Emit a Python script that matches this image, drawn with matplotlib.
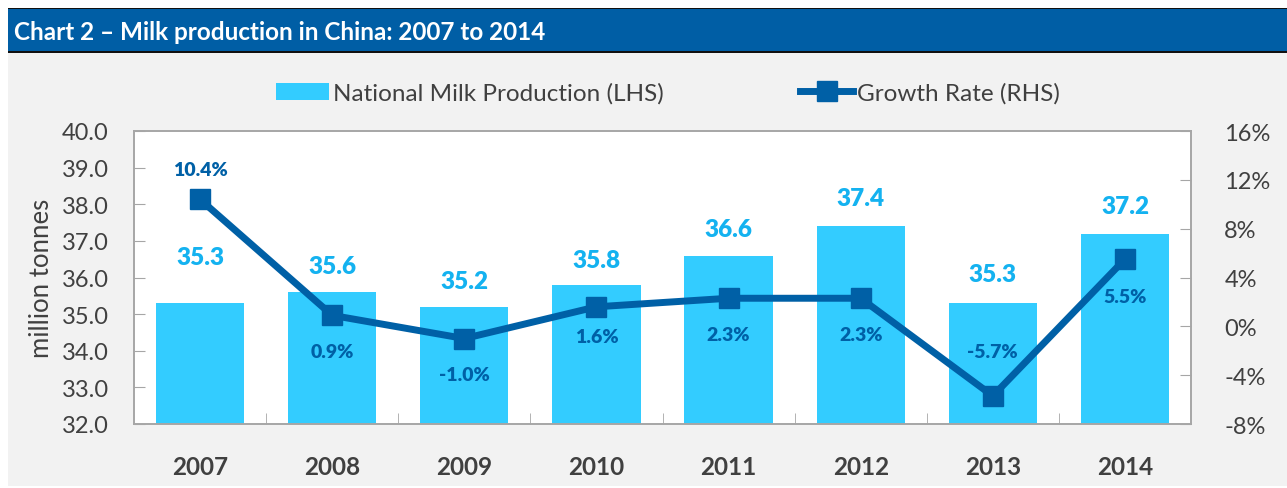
import matplotlib.pyplot as plt
from matplotlib.patches import Rectangle
from matplotlib.lines import Line2D
import numpy as np

plt.rcParams['font.family'] = ['Lato', 'DejaVu Sans']

years = ['2007', '2008', '2009', '2010', '2011', '2012', '2013', '2014']
production = [35.3, 35.6, 35.2, 35.8, 36.6, 37.4, 35.3, 37.2]
growth = [10.4, 0.9, -1.0, 1.6, 2.3, 2.3, -5.7, 5.5]

bar_col = '#33ccff'
bar_txt = '#14b2f0'
line_col = '#0060a6'
txt_col = '#404040'
W, H = 1287, 489

fig = plt.figure(figsize=(W / 100, H / 100), dpi=100)
fig.patch.set_facecolor('white')

# background panels
fig.patches.append(Rectangle((8 / W, 2 / H), 1 - 8 / W, 434 / H, transform=fig.transFigure,
                             facecolor='#f2f2f2', edgecolor='none', zorder=-2))
fig.patches.append(Rectangle((8 / W, 1 - 54 / H), 1 - 8 / W, 45 / H, transform=fig.transFigure,
                             facecolor='#111111', edgecolor='none', zorder=-1))
fig.patches.append(Rectangle((8 / W, 1 - 52 / H), 1 - 8 / W, 42 / H, transform=fig.transFigure,
                             facecolor='#005ea5', edgecolor='none', zorder=0))
fig.text(14 / W, 1 - 32 / H, 'Chart 2 \u2013 Milk production in China: 2007 to 2014',
         color='white', fontsize=17.5, fontweight='bold', va='center', ha='left')

ax = fig.add_axes([134 / W, 1 - 425 / H, (1191 - 134) / W, (425 - 132) / H])
ax.set_facecolor('white')
x = np.arange(len(years))
ax.bar(x, np.array(production) - 32, bottom=32, width=0.667, color=bar_col, zorder=2)
ax.set_xlim(-0.5, len(years) - 0.5)
ax.set_ylim(32, 40)
ax.set_yticks(np.arange(32, 40.1, 1))
ax.set_yticklabels(['%.1f' % v for v in np.arange(32, 40.1, 1)])
ax.set_xticks(x)
ax.set_xticklabels(years, fontweight='bold')
ax.set_xticks(np.arange(0.5, len(years) - 1, 1), minor=True)
ax.tick_params(axis='x', which='major', length=0, pad=22, labelsize=17.5, labelcolor=txt_col)
ax.tick_params(axis='x', which='minor', direction='in', length=8, color='#a6a6a6')
ax.tick_params(axis='y', direction='in', length=8, color='#a6a6a6', pad=18,
               labelsize=17, labelcolor=txt_col)
for s in ax.spines.values():
    s.set_color('#a6a6a6')
    s.set_linewidth(1.2)
ax.set_ylabel('million tonnes', fontsize=18.5, color=txt_col, labelpad=6)

bar_off = [46, 26, 26, 25, 27, 28, 29, 28]
for xi, v, off in zip(x, production, bar_off):
    ax.annotate('%.1f' % v, (xi, v), xytext=(0, off), textcoords='offset pixels',
                ha='center', va='center', fontsize=17.5, fontweight='heavy', color=bar_txt, zorder=5)

ax2 = ax.twinx()
ax2.plot(x, growth, color=line_col, lw=5, marker='s', markersize=14, zorder=4)
ax2.set_ylim(-8, 16)
ax2.set_yticks(np.arange(-8, 16.1, 4))
ax2.set_yticklabels(['%d%%' % v for v in np.arange(-8, 16.1, 4)])
ax2.tick_params(axis='y', direction='in', length=8, color='#a6a6a6', pad=24,
                labelsize=17, labelcolor=txt_col)
for s in ax2.spines.values():
    s.set_color('#a6a6a6')
    s.set_linewidth(1.2)

grow_off = [30, -36, -36, -30, -36, -36, 44, -37]
for xi, v, off in zip(x, growth, grow_off):
    ax2.annotate('%.1f%%' % v, (xi, v), xytext=(0, off), textcoords='offset pixels',
                 ha='center', va='center', fontsize=14, fontweight='heavy', color=line_col, zorder=6)

handles = [Rectangle((0, 0), 1, 1, facecolor=bar_col, edgecolor='none'),
           Line2D([0], [0], color=line_col, lw=5, marker='s', markersize=14)]
fig.legend(handles, ['National Milk Production (LHS)', 'Growth Rate (RHS)'],
           loc='center', bbox_to_anchor=(0.519, 1 - 94 / H), ncol=2, frameon=False,
           fontsize=17.5, labelcolor=txt_col, handlelength=2.2, handletextpad=0.15,
           columnspacing=5.6)

fig.savefig('out.png', dpi=100)
